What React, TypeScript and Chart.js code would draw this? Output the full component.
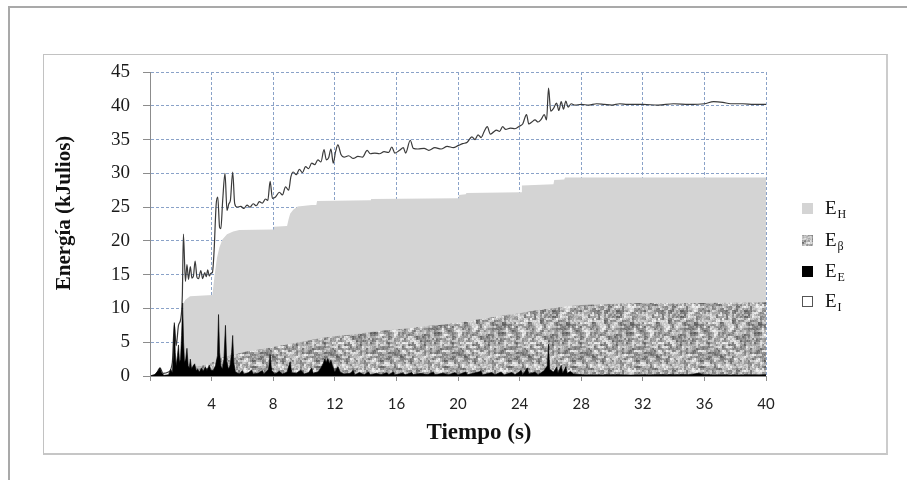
import React, { useEffect, useRef } from 'react';
import { Chart, registerables } from 'chart.js';
Chart.register(...registerables);

// ---------- data ----------
const xTickValues = [0, 4, 8, 12, 16, 20, 24, 28, 32, 36, 40];
const yTickValues = [0, 5, 10, 15, 20, 25, 30, 35, 40, 45];

// E_I : total energy line
const timeI = [0, 0.4, 0.65, 0.85, 1.2, 1.45, 1.58, 1.7, 1.85, 2.0, 2.1, 2.17, 2.3, 2.4, 2.5, 2.62, 2.72, 2.82, 2.93, 3.05, 3.15, 3.3, 3.42, 3.55, 3.65, 3.75, 3.85, 3.95, 4.05, 4.15, 4.3, 4.4, 4.52, 4.6, 4.72, 4.87, 5.0, 5.12, 5.22, 5.37, 5.5, 5.65, 5.9, 6.1, 6.3, 6.5, 6.7, 6.9, 7.1, 7.3, 7.5, 7.65, 7.8, 7.95, 8.15, 8.4, 8.6, 8.8, 9.0, 9.15, 9.3, 9.5, 9.7, 9.9, 10.1, 10.3, 10.5, 10.7, 10.9, 11.1, 11.3, 11.45, 11.6, 11.75, 11.9, 12.05, 12.2, 12.4, 12.6, 12.9, 13.2, 13.5, 13.8, 14.1, 14.3, 14.6, 14.9, 15.2, 15.5, 15.7, 15.9, 16.2, 16.45, 16.6, 16.9, 17.1, 17.4, 17.8, 18.1, 18.5, 18.9, 19.3, 19.7, 20.0, 20.3, 20.6, 20.9, 21.1, 21.3, 21.5, 21.7, 21.9, 22.1, 22.3, 22.5, 22.7, 22.9, 23.1, 23.4, 23.7, 24.0, 24.2, 24.45, 24.6, 24.8, 25.0, 25.2, 25.4, 25.6, 25.75, 25.88, 26.02, 26.2, 26.4, 26.55, 26.7, 26.85, 27.0, 27.15, 27.35, 27.6, 28.0, 28.5, 29, 29.5, 30, 30.5, 31, 32, 33, 34, 35, 36, 36.6, 37.2, 37.7, 38.5, 39.2, 40, 40.001];
const energyI = [0, 0.3, 1.2, 0.4, 0.6, 2, 7.6, 4.5, 7.5, 8.5, 12, 21, 14, 16.5, 14.3, 16.2, 14.5, 14.8, 17, 14.6, 14.4, 15.6, 14.4, 15.3, 14.7, 15.7, 14.8, 15.2, 15.3, 18, 25.5, 26.5, 22, 21.8, 26, 30, 24.5, 25.5, 26, 30.2, 25.5, 25, 25.1, 24.8, 25.3, 25, 25.5, 25.2, 25.8, 25.6, 26.2, 26, 28.8, 26.3, 26.5, 27.2, 26.8, 28, 27.5, 29.5, 30.2, 29.8, 30.6, 30.1, 31, 30.7, 31.5, 31.3, 32, 31.7, 33.5, 32, 32.3, 33.6, 31.5, 33.2, 34.2, 32.8, 32.4, 32.6, 32.2, 32.5, 32.4, 33.4, 32.9, 33, 32.9, 33.2, 33.1, 33.9, 33.0, 33.4, 33.8, 33, 34.9, 33.7, 33.6, 33.7, 33.4, 33.8, 33.6, 34, 33.8, 34.1, 34.4, 34.6, 35.4, 35.0, 35.7, 35.3, 36.2, 36.9, 35.8, 36.1, 36.4, 36.2, 36.9, 36.5, 36.7, 36.6, 37.0, 37.3, 38.7, 37.3, 37.6, 37.9, 37.6, 38.0, 38.7, 37.9, 42.6, 39.2, 39.6, 40.4, 39.3, 40.6, 39.5, 40.7, 39.8, 40.3, 40.1, 40.2, 40.1, 40.3, 40.2, 40.1, 40.3, 40.2, 40.2, 40.1, 40.3, 40.2, 40.3, 40.6, 40.5, 40.3, 40.3, 40.2, 40.2, 29.4];

// E_H : top of the grey area (cumulative)
const timeH = [0, 2.14, 2.15, 2.3, 2.6, 4.05, 4.1, 4.2, 4.35, 4.5, 4.7, 5.0, 5.4, 5.8, 8.0, 8.05, 8.9, 9.0, 9.1, 9.3, 9.6, 10.5, 10.8, 10.85, 14.3, 14.35, 20.0, 20.05, 20.5, 20.55, 24.1, 24.15, 26.2, 26.25, 26.9, 26.95, 40];
const energyH = [0, 0, 10.7, 11.3, 11.8, 12, 13, 15, 17.5, 19, 20.2, 21, 21.4, 21.6, 21.7, 22.1, 22.2, 23.2, 24.0, 24.6, 25.1, 25.3, 25.3, 25.9, 26.0, 26.2, 26.3, 26.8, 26.9, 27.1, 27.2, 28.2, 28.4, 29.0, 29.1, 29.4, 29.4];

// E_beta : top of the textured area (cumulative)
const timeB = [0, 1.5, 2.1, 2.5, 3.0, 3.5, 3.9, 4.3, 4.8, 5.5, 6.2, 7, 8, 9, 10, 11, 12, 13, 14, 15, 16, 17, 18, 19, 20, 21, 22, 23, 24, 25, 26, 27, 28, 29, 30, 32, 36, 40];
const energyB = [0, 0.2, 0.5, 1.2, 1.4, 1.6, 1.8, 2.4, 2.8, 3.2, 3.6, 3.9, 4.3, 4.7, 5.1, 5.6, 5.9, 6.1, 6.4, 6.7, 6.9, 7.1, 7.4, 7.6, 7.9, 8.3, 8.6, 9.0, 9.3, 9.7, 10.0, 10.3, 10.5, 10.6, 10.7, 10.8, 10.8, 10.9];

// E_E : black spikes
const timeE = [0, 0.3, 0.55, 0.65, 0.75, 0.9, 1.2, 1.35, 1.45, 1.52, 1.58, 1.64, 1.7, 1.78, 1.85, 1.92, 1.98, 2.05, 2.12, 2.18, 2.24, 2.32, 2.4, 2.48, 2.55, 2.62, 2.7, 2.8, 2.9, 3.0, 3.1, 3.2, 3.35, 3.45, 3.6, 3.7, 3.85, 3.95, 4.1, 4.25, 4.38, 4.45, 4.52, 4.6, 4.7, 4.8, 4.9, 4.98, 5.1, 5.2, 5.3, 5.37, 5.44, 5.55, 5.8, 6.0, 6.1, 6.4, 6.6, 6.7, 7.0, 7.3, 7.4, 7.7, 7.8, 7.9, 8.1, 8.4, 8.6, 8.9, 9.1, 9.2, 9.5, 9.8, 10.0, 10.3, 10.5, 10.6, 10.9, 11.1, 11.25, 11.35, 11.45, 11.55, 11.65, 11.75, 11.85, 12.0, 12.2, 12.35, 12.6, 13.0, 13.2, 13.3, 13.6, 13.9, 14.2, 14.3, 14.7, 15.0, 15.4, 15.5, 15.8, 15.9, 16.4, 16.6, 17.0, 17.1, 17.6, 18.0, 18.4, 18.5, 19.0, 19.4, 19.8, 20.0, 20.5, 20.6, 21.0, 21.5, 21.6, 22.2, 22.4, 22.8, 23.0, 23.5, 23.7, 24.1, 24.2, 24.5, 24.6, 25.0, 25.2, 25.6, 25.8, 25.88, 25.95, 26.2, 26.4, 26.5, 26.7, 26.8, 27.0, 27.1, 27.3, 27.5, 28.0, 29, 30, 31, 33, 35, 35.6, 36.0, 38, 40];
const energyE = [0, 0.2, 0.8, 1.2, 0.5, 0.1, 0.2, 1.0, 0.5, 3, 7.9, 3.5, 1.5, 3, 4.6, 2, 2.5, 6, 10.8, 5, 2, 2.5, 4.1, 1.5, 1.2, 2.5, 1, 1.5, 1.8, 0.8, 1.0, 0.6, 1.2, 0.7, 1.3, 0.8, 1.6, 0.9, 0.8, 1.5, 3, 9.1, 3.5, 1.5, 1.0, 2.5, 7.5, 2.2, 1.0, 1.6, 3.5, 6.0, 2, 0.6, 0.3, 0.8, 0.3, 0.5, 0.9, 0.3, 0.4, 0.8, 0.3, 1.0, 3.2, 0.8, 0.3, 0.7, 0.3, 0.6, 2.1, 0.5, 0.4, 0.9, 0.3, 0.5, 1.2, 0.4, 0.6, 1.2, 1.9, 2.5, 2.0, 2.6, 1.8, 2.4, 1.5, 0.6, 1.4, 0.6, 0.3, 0.4, 0.8, 0.2, 0.5, 0.2, 0.6, 0.2, 0.4, 0.2, 0.5, 0.2, 0.6, 0.2, 0.4, 0.2, 0.5, 0.2, 0.4, 0.2, 0.6, 0.2, 0.4, 0.2, 0.5, 0.2, 0.6, 0.2, 0.4, 0.7, 0.2, 0.5, 0.2, 0.6, 0.2, 0.5, 0.2, 0.8, 0.2, 1.2, 0.3, 0.6, 0.2, 0.8, 1.5, 4.7, 1.0, 0.6, 1.3, 0.4, 1.6, 0.4, 1.4, 0.4, 0.7, 0.3, 0.2, 0.15, 0.2, 0.15, 0.2, 0.2, 0.4, 0.2, 0.15, 0.2];

const legendMain = ['E', 'E', 'E', 'E'];
const legendSub = ['H', 'β', 'E', 'I'];
const xTitle = 'Tiempo (s)';
const yTitle = 'Energía (kJulios)';

const pts = (t: number[], v: number[]) => t.map((x, i) => ({ x, y: v[i] }));

function makeNoisePattern(ctx: CanvasRenderingContext2D): CanvasPattern | string {
  const size = 64;
  const off = document.createElement('canvas');
  off.width = size;
  off.height = size;
  const g = off.getContext('2d');
  if (!g) return '#a8a8a8';
  let s = 987654321;
  const rnd = () => {
    s = (s * 1103515245 + 12345) % 2147483648;
    return s / 2147483648;
  };
  const cells = size / 2;
  const coarse: number[] = [];
  for (let i = 0; i < cells * cells; i++) coarse.push(rnd());
  const img = g.createImageData(size, size);
  for (let y = 0; y < size; y++) {
    for (let x = 0; x < size; x++) {
      const cx = x >> 1, cy = y >> 1;
      const a = coarse[cy * cells + cx];
      const b = coarse[cy * cells + ((cx + 1) % cells)];
      const c = coarse[((cy + 1) % cells) * cells + cx];
      const v = a * 0.6 + b * 0.2 + c * 0.2;
      const gray = Math.max(70, Math.min(240, 85 + v * 175 + (rnd() - 0.5) * 30));
      const k = (y * size + x) * 4;
      img.data[k] = gray;
      img.data[k + 1] = gray;
      img.data[k + 2] = gray;
      img.data[k + 3] = 255;
    }
  }
  g.putImageData(img, 0, 0);
  return ctx.createPattern(off, 'repeat') || '#a8a8a8';
}

export default function App() {
  const ref = useRef<HTMLCanvasElement>(null);

  useEffect(() => {
    const canvas = ref.current;
    if (!canvas) return;
    const ctx0 = canvas.getContext('2d');
    if (!ctx0) return;
    const pattern = makeNoisePattern(ctx0);

    const decor = {
      id: 'decor',
      afterDraw(chart: any) {
        const ctx: CanvasRenderingContext2D = chart.ctx;
        ctx.save();
        // y title
        ctx.fillStyle = '#111';
        ctx.font = 'bold 21px "Liberation Serif"';
        ctx.textAlign = 'center';
        ctx.textBaseline = 'middle';
        ctx.translate(65, 213);
        ctx.rotate(-Math.PI / 2);
        ctx.fillText(yTitle, 0, 0);
        ctx.restore();

        ctx.save();
        ctx.fillStyle = '#111';
        ctx.font = 'bold 23px "Liberation Serif"';
        ctx.textAlign = 'center';
        ctx.textBaseline = 'middle';
        ctx.fillText(xTitle, 479, 433);
        ctx.restore();

        // legend
        const fills: (string | CanvasPattern)[] = ['#d4d4d4', pattern, '#000000', '#ffffff'];
        const ys = [208, 240, 271, 301];
        ctx.save();
        for (let i = 0; i < legendMain.length; i++) {
          const y = ys[i];
          ctx.fillStyle = fills[i] as any;
          ctx.fillRect(802, y - 5, 11, 11);
          if (i === 3) {
            ctx.strokeStyle = '#555';
            ctx.lineWidth = 1;
            ctx.strokeRect(802.5, y - 4.5, 10, 10);
          }
          ctx.fillStyle = '#111';
          ctx.textAlign = 'left';
          ctx.textBaseline = 'alphabetic';
          ctx.font = '19px "Liberation Serif"';
          ctx.fillText(legendMain[i], 825, y + 6);
          const w = ctx.measureText(legendMain[i]).width;
          ctx.font = '12px "Liberation Serif"';
          ctx.fillText(legendSub[i], 825 + w + 1, y + 10);
        }
        ctx.restore();
      },
    };

    const chart = new Chart(canvas, {
      type: 'line',
      data: {
        datasets: [
          {
            label: 'E_E',
            data: pts(timeE, energyE),
            borderColor: '#000',
            borderWidth: 0.6,
            backgroundColor: '#000',
            fill: 'origin',
            pointRadius: 0,
            tension: 0,
          },
          {
            label: 'E_beta',
            data: pts(timeB, energyB),
            borderColor: 'rgba(0,0,0,0)',
            borderWidth: 0,
            backgroundColor: pattern as any,
            fill: 'origin',
            pointRadius: 0,
            tension: 0,
          },
          {
            label: 'E_H',
            data: pts(timeH, energyH),
            borderColor: 'rgba(0,0,0,0)',
            borderWidth: 0,
            backgroundColor: '#d4d4d4',
            fill: 'origin',
            pointRadius: 0,
            tension: 0,
          },
          {
            label: 'E_I',
            data: pts(timeI, energyI),
            borderColor: '#3a3a3a',
            borderWidth: 1.2,
            backgroundColor: 'rgba(0,0,0,0)',
            fill: false,
            pointRadius: 0,
            cubicInterpolationMode: 'monotone',
          },
        ],
      },
      options: {
        responsive: false,
        animation: false,
        devicePixelRatio: 1,
        events: [],
        layout: { padding: { left: 0, top: 72, right: 141, bottom: 0 } },
        plugins: { legend: { display: false }, tooltip: { enabled: false }, title: { display: false } },
        scales: {
          x: {
            type: 'linear',
            min: 0,
            max: 40,
            afterBuildTicks: (scale: any) => {
              scale.ticks = xTickValues.map((v) => ({ value: v }));
            },
            afterFit: (scale: any) => {
              scale.height = 104;
            },
            ticks: {
              callback: (v: any) => (v === 0 ? '' : String(v)),
              font: { family: 'Lato', size: 15 },
              color: '#222',
              padding: 14,
              maxRotation: 0,
              autoSkip: false,
            },
            grid: {
              color: '#8aa2c8',
              lineWidth: 1,
              tickLength: 5,
              tickColor: '#8c8c8c',
              tickBorderDash: [],
            },
            border: { display: true, color: '#8c8c8c', width: 1, dash: [3, 2], z: 1 },
          },
          y: {
            type: 'linear',
            min: 0,
            max: 45,
            afterBuildTicks: (scale: any) => {
              scale.ticks = yTickValues.map((v) => ({ value: v }));
            },
            afterFit: (scale: any) => {
              scale.width = 150;
            },
            ticks: {
              font: { family: 'Liberation Serif', size: 19 },
              color: '#1a1a1a',
              padding: 13,
            },
            grid: {
              color: '#8aa2c8',
              lineWidth: 1,
              tickLength: 7,
              tickColor: '#8c8c8c',
              tickBorderDash: [],
            },
            border: { display: true, color: '#8c8c8c', width: 1, dash: [3, 2], z: 1 },
          },
        },
      },
      plugins: [decor],
    } as any);
    return () => chart.destroy();
  }, []);

  return (
    <div style={{ position: 'fixed', left: 0, top: 0, width: 907, height: 480, background: '#fff', overflow: 'hidden' }}>
      <div style={{ position: 'absolute', left: 8, top: 6, width: 1200, height: 1200, borderLeft: '2px solid #a9a9a9', borderTop: '2px solid #a9a9a9' }} />
      <div style={{ position: 'absolute', left: 43, top: 54, width: 842, height: 398, borderLeft: '1px solid #c2c2c2', borderTop: '1px solid #c2c2c2', borderBottom: '2px solid #c6c6c6', borderRight: '2px solid #cccccc', background: '#fff' }} />
      <canvas ref={ref} width={907} height={480} style={{ position: 'absolute', left: 0, top: 0 }} />
    </div>
  );
}
